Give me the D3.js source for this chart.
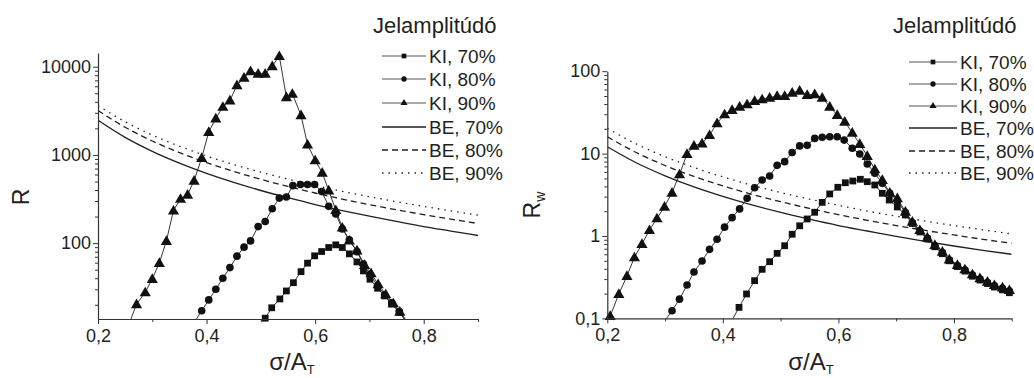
<!DOCTYPE html>
<html><head><meta charset="utf-8">
<script src="https://cdn.jsdelivr.net/npm/d3@7/dist/d3.min.js"></script>
<style>
body{margin:0;background:#fff;}
svg{display:block;font-family:"Liberation Sans",Arial,sans-serif;}
</style></head>
<body><svg id="c" width="1034" height="378"></svg>
<script>
// ---------- data ----------
const xTicks = [0.2, 0.4, 0.6, 0.8];
const xTickLabels = ["0,2", "0,4", "0,6", "0,8"];
const xMinor = [0.3, 0.5, 0.7, 0.9];
const yTicksL = [100, 1000, 10000];
const yTickLabelsL = ["100", "1000", "10000"];
const yTicksR = [0.1, 1, 10, 100];
const yTickLabelsR = ["0,1", "1", "10", "100"];
const legendTitle = "Jelamplitúdó";
const seriesNames = ["KI, 70%", "KI, 80%", "KI, 90%", "BE, 70%", "BE, 80%", "BE, 90%"];

// left panel (R)
const L_KI70_x = [0.495,0.508,0.520,0.535,0.547,0.560,0.574,0.586,0.599,0.612,0.625,0.638,0.650,0.663,0.677,0.689,0.701,0.715,0.728,0.741,0.755,0.768];
const L_KI70_y = [10.5,14.1,18.5,23.3,28.7,35.6,47.5,59.3,71.8,80.3,89.2,95.6,89.2,75.6,61.2,48.4,39,30.8,25.2,20.4,16.4,12.8];
const L_KI80_x = [0.378,0.391,0.404,0.417,0.430,0.443,0.456,0.469,0.481,0.495,0.508,0.521,0.534,0.547,0.559,0.573,0.586,0.599,0.612,0.625,0.638,0.650,0.663,0.677,0.689,0.701,0.715,0.728,0.741,0.755,0.768];
const L_KI80_y = [12.8,17.1,22.7,30,40,52.8,71.1,90,106,154,176,245,324,333,448,462,462,462,385,261,214,145,109,80,58,44,33,26,21,16.8,12.8];
const L_KI90_x = [0.258,0.271,0.287,0.300,0.313,0.326,0.339,0.352,0.365,0.377,0.391,0.404,0.417,0.430,0.443,0.456,0.469,0.481,0.495,0.508,0.521,0.534,0.547,0.558,0.574,0.586,0.600,0.613,0.625,0.638,0.650,0.663,0.677,0.691,0.703,0.716,0.730,0.744,0.756,0.770];
const L_KI90_y = [12.5,20.3,27.7,39.3,59.7,106,234,318,354,511,925,1825,2590,3510,4140,6180,7500,8910,8320,8320,10150,13200,4520,4930,2820,1310,869,629,396,237,150,107,82.5,56.6,45.6,34.2,26.3,20.8,16.7,12.8];
const BE_x = [0.2,0.25,0.3,0.35,0.4,0.45,0.5,0.55,0.6,0.65,0.7,0.75,0.8,0.85,0.9];
const L_BE70_y = [2470,1581,1098,807,618,488,395,327,274,234,202,176,154,137,122];
const L_BE80_y = [3185,2057,1439,1063,819,650,529,439,370,316,273,239,210,187,167];
const L_BE90_y = [3630,2375,1680,1254,973,778,637,531,450,387,336,295,261,232,208];

// right panel (Rw)
const R_KI70_x = [0.415,0.428,0.441,0.455,0.468,0.481,0.494,0.507,0.520,0.533,0.546,0.559,0.572,0.585,0.599,0.612,0.625,0.638,0.650,0.663,0.676,0.688,0.702,0.716,0.728,0.741,0.754,0.767,0.780,0.792,0.806,0.819,0.832,0.845,0.858,0.870,0.884,0.896];
const R_KI70_y = [0.092,0.136,0.198,0.287,0.394,0.488,0.616,0.762,1.05,1.33,1.61,1.94,2.56,3.24,3.90,4.43,4.65,4.88,4.56,4.16,3.30,2.73,2.25,1.80,1.42,1.12,0.92,0.74,0.61,0.50,0.425,0.375,0.325,0.292,0.265,0.240,0.222,0.205];
const R_KI80_x = [0.299,0.312,0.325,0.338,0.350,0.364,0.377,0.390,0.403,0.416,0.429,0.442,0.455,0.468,0.481,0.494,0.507,0.520,0.533,0.546,0.559,0.572,0.585,0.598,0.610,0.624,0.637,0.650,0.663,0.676,0.689,0.702,0.716,0.728,0.741,0.754,0.767,0.780,0.792,0.806,0.819,0.832,0.845,0.858,0.870,0.884,0.896];
const R_KI80_y = [0.092,0.124,0.171,0.254,0.366,0.497,0.689,0.912,1.28,1.67,2.13,2.87,3.85,4.78,5.35,7.21,7.98,10.3,12.4,12.6,15.3,15.8,16.0,16.0,14.6,11.6,9.89,7.48,5.77,4.36,3.30,2.65,1.92,1.45,1.15,0.94,0.76,0.63,0.51,0.435,0.385,0.335,0.300,0.272,0.248,0.232,0.215];
const R_KI90_x = [0.205,0.220,0.234,0.247,0.260,0.273,0.286,0.299,0.312,0.325,0.338,0.350,0.364,0.377,0.390,0.403,0.416,0.429,0.442,0.455,0.468,0.481,0.494,0.507,0.520,0.533,0.546,0.559,0.572,0.585,0.598,0.611,0.624,0.637,0.650,0.663,0.676,0.689,0.702,0.716,0.728,0.741,0.754,0.767,0.780,0.792,0.806,0.819,0.832,0.845,0.858,0.870,0.884,0.896];
const R_KI90_y = [0.107,0.198,0.327,0.551,0.80,1.18,1.64,2.27,3.35,5.61,9.89,12.5,13.3,16.8,23.4,30,33.8,37.1,39.6,43.5,45.6,47.7,50,50,54.8,58,51.4,52.5,47.7,37.1,29.4,24.4,17.9,13.1,9.35,6.44,4.78,3.35,2.87,1.97,1.49,1.18,0.96,0.78,0.645,0.52,0.445,0.394,0.343,0.307,0.279,0.254,0.238,0.221];
const R_BE70_y = [12.1,7.74,5.38,3.95,3.03,2.39,1.94,1.60,1.34,1.15,0.988,0.860,0.756,0.670,0.600];
const R_BE80_y = [16.0,10.3,7.17,5.28,4.06,3.21,2.61,2.16,1.82,1.55,1.34,1.17,1.03,0.912,0.815];
const R_BE90_y = [20.3,13.1,9.17,6.78,5.22,4.14,3.37,2.80,2.36,2.01,1.74,1.52,1.34,1.19,1.06];

// ---------- drawing ----------
const svg = d3.select("#c");
const INK = "#231f20";
const zip = (xs, ys) => xs.map((x, i) => ({x, y: ys[i]}));

const panels = [
  { id: "L", xr: [98, 478], yr: [319, 53], yd: [13.8, 14300],
    yTicks: yTicksL, yLabels: yTickLabelsL, ylab: "R", ylabSub: "", ylabX: 29, ylabY: 197,
    xlabX: 292, legX: 373, legLine: [382, 426], legRows: [56, 79, 103, 127, 150, 173], legText: 429,
    ki: [zip(L_KI70_x, L_KI70_y), zip(L_KI80_x, L_KI80_y), zip(L_KI90_x, L_KI90_y)],
    be: [zip(BE_x, L_BE70_y), zip(BE_x, L_BE80_y), zip(BE_x, L_BE90_y)] },
  { id: "R", xr: [607.3, 1011.7], yr: [318.4, 71.2], yd: [0.1, 100],
    yTicks: yTicksR, yLabels: yTickLabelsR, ylab: "R", ylabSub: "w", ylabX: 540, ylabY: 205,
    xlabX: 811, legX: 893, legLine: [909, 957], legRows: [62, 84, 106, 128, 151, 173], legText: 960,
    ki: [zip(R_KI70_x, R_KI70_y), zip(R_KI80_x, R_KI80_y), zip(R_KI90_x, R_KI90_y)],
    be: [zip(BE_x, R_BE70_y), zip(BE_x, R_BE80_y), zip(BE_x, R_BE90_y)] }
];

const markerTypes = [d3.symbolSquare, d3.symbolCircle, d3.symbolTriangle];
const markerSizes = [46, 46, 54];
const beDash = [null, "6,4", "1.5,5"];

panels.forEach(p => {
  const x = d3.scaleLinear().domain([0.2, 0.9]).range(p.xr);
  const y = d3.scaleLog().domain(p.yd).range(p.yr);
  const g = svg.append("g");

  const clipId = "clip" + p.id;
  svg.append("clipPath").attr("id", clipId).append("rect")
    .attr("x", p.xr[0]).attr("y", p.yr[1]).attr("width", p.xr[1] - p.xr[0]).attr("height", p.yr[0] - p.yr[1]);

  const line = d3.line().x(d => x(d.x)).y(d => y(d.y));
  const smooth = d3.line().x(d => x(d.x)).y(d => y(d.y)).curve(d3.curveMonotoneX);

  const plot = g.append("g").attr("clip-path", `url(#${clipId})`);
  p.be.forEach((s, i) => {
    plot.append("path").datum(s).attr("d", smooth).attr("fill", "none")
      .attr("stroke", INK).attr("stroke-width", 1.3)
      .attr("stroke-dasharray", beDash[i]);
  });
  p.ki.forEach((s, i) => {
    plot.append("path").datum(s).attr("d", line).attr("fill", "none")
      .attr("stroke", INK).attr("stroke-width", 0.9);
  });
  const mg = g.append("g");
  [2, 1, 0].forEach(i => {
    const s = p.ki[i].filter(d => d.y >= p.yd[0] * 0.98);
    mg.selectAll(null).data(s).enter().append("path")
      .attr("transform", d => `translate(${x(d.x)},${y(d.y) + (i === 2 ? 0.8 : 0)})`)
      .attr("d", d3.symbol().type(markerTypes[i]).size(markerSizes[i]))
      .attr("fill", "#111");
  });

  // axes
  const xAxis = d3.axisBottom(x).tickValues(xTicks).tickFormat((d, i) => xTickLabels[i])
    .tickSize(5).tickPadding(5).tickSizeOuter(0);
  g.append("g").attr("transform", `translate(0,${p.yr[0]})`).call(xAxis);
  g.append("g").attr("transform", `translate(0,${p.yr[0]})`)
    .call(d3.axisBottom(x).tickValues(xMinor).tickFormat("").tickSize(3).tickSizeOuter(0))
    .select(".domain").remove();

  const yAxis = d3.axisLeft(y).tickValues(p.yTicks).tickFormat((d, i) => p.yLabels[i])
    .tickSize(5).tickPadding(2).tickSizeOuter(0);
  g.append("g").attr("transform", `translate(${p.xr[0]},0)`).call(yAxis);
  const minor = y.ticks().filter(v => !p.yTicks.includes(v) && v >= p.yd[0] && v <= p.yd[1]);
  g.append("g").attr("transform", `translate(${p.xr[0]},0)`)
    .call(d3.axisLeft(y).tickValues(minor).tickFormat("").tickSize(3).tickSizeOuter(0))
    .select(".domain").remove();

  g.selectAll(".domain").attr("stroke", "#333").attr("stroke-width", 1.2);
  g.selectAll(".tick line").attr("stroke", "#333");
  g.selectAll(".tick text").attr("fill", INK).attr("font-size", 18)
    .attr("font-family", '"Liberation Sans",Arial,sans-serif');

  // axis titles
  const yl = g.append("text").attr("transform", `translate(${p.ylabX},${p.ylabY}) rotate(-90)`)
    .attr("text-anchor", "middle").attr("fill", INK).attr("font-size", 23);
  yl.append("tspan").text(p.ylab);
  if (p.ylabSub) yl.append("tspan").attr("font-size", 14).attr("dy", 5).text(p.ylabSub);

  const xl = g.append("text").attr("x", p.xlabX).attr("y", 370).attr("text-anchor", "middle")
    .attr("fill", INK).attr("font-size", 24);
  xl.append("tspan").text("σ/A");
  xl.append("tspan").attr("font-size", 13).attr("dy", 4).text("T");

  // legend
  const lg = g.append("g");
  lg.append("text").attr("x", p.legX).attr("y", 33).attr("fill", INK).attr("font-size", 22).text(legendTitle);
  seriesNames.forEach((name, i) => {
    const yy = p.legRows[i];
    lg.append("line").attr("x1", p.legLine[0]).attr("x2", p.legLine[1]).attr("y1", yy).attr("y2", yy)
      .attr("stroke", i < 3 ? "#555" : INK).attr("stroke-width", i < 3 ? 1 : 1.3)
      .attr("stroke-dasharray", i < 3 ? null : beDash[i - 3]);
    if (i < 3) {
      lg.append("path").attr("transform", `translate(${(p.legLine[0] + p.legLine[1]) / 2},${yy})`)
        .attr("d", d3.symbol().type(markerTypes[i]).size(22)).attr("fill", "#111");
    }
    lg.append("text").attr("x", p.legText).attr("y", yy).attr("dy", "0.36em")
      .attr("fill", INK).attr("font-size", 19).text(name);
  });
});
</script></body></html>
